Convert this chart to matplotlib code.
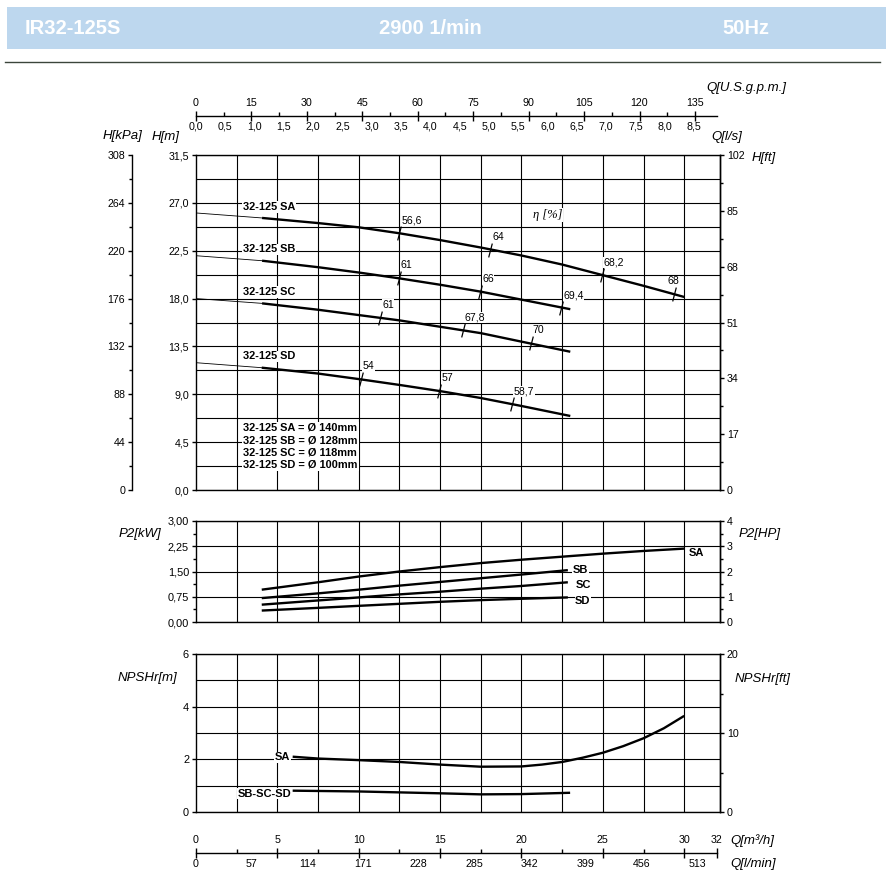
import matplotlib

matplotlib.use("Agg")

import matplotlib.pyplot as plt
import numpy as np
from matplotlib.lines import Line2D
from matplotlib.patches import Rectangle
from matplotlib.path import Path
from matplotlib.ticker import FixedLocator, FuncFormatter


W, H = 887, 881
Q_MAX = 32.2
REGULAR = ["Liberation Sans", "DejaVu Sans"]
NARROW = ["Liberation Sans Narrow", "Liberation Sans", "DejaVu Sans"]

# ---- data (Q in m3/h) ----
# head curves, H [m]; the first segment of each is the thin extension
Q_HEAD_SA = [0, 4.06, 7.5, 10, 12.5, 15, 17.5, 20, 22.5, 25, 27.5, 30]
H_HEAD_SA = [26.05, 25.58, 25.1, 24.7, 24.14, 23.5, 22.8, 22.05, 21.2, 20.2, 19.2, 18.15]
Q_HEAD_SB = [0, 4.06, 7.5, 10, 12.5, 15, 17.5, 20, 23.0]
H_HEAD_SB = [22.03, 21.56, 20.95, 20.45, 19.9, 19.3, 18.65, 17.9, 17.0]
Q_HEAD_SC = [0, 4.06, 7.5, 10, 12.5, 15, 17.5, 20, 23.0]
H_HEAD_SC = [18.0, 17.55, 16.95, 16.45, 15.95, 15.35, 14.75, 13.95, 13.0]
Q_HEAD_SD = [0, 4.04, 7.5, 10, 12.5, 15, 17.5, 20, 23.0]
H_HEAD_SD = [11.97, 11.5, 10.95, 10.43, 9.88, 9.3, 8.65, 7.9, 6.96]

# efficiency marks on the head curves
EFF_Q_SA = [12.48, 18.07, 24.93, 29.38]
EFF_H_SA = [24.14, 22.57, 20.2, 18.4]
EFF_LBL_SA = ["56,6", "64", "68,2", "68"]
EFF_Q_SB = [12.45, 17.45, 22.43]
EFF_H_SB = [19.9, 18.65, 17.08]
EFF_LBL_SB = ["61", "66", "69,4"]
EFF_Q_SC = [11.31, 16.39, 20.57]
EFF_H_SC = [16.2, 15.04, 13.79]
EFF_LBL_SC = ["61", "67,8", "70"]
EFF_Q_SD = [10.12, 14.95, 19.4]
EFF_H_SD = [10.41, 9.31, 8.09]
EFF_LBL_SD = ["54", "57", "58,7"]

CURVE_NAMES = ["32-125 SA", "32-125 SB", "32-125 SC", "32-125 SD"]
DIAMETERS = ["32-125 SA = Ø 140mm", "32-125 SB = Ø 128mm",
             "32-125 SC = Ø 118mm", "32-125 SD = Ø 100mm"]

# shaft power P2 [kW]
Q_P2_SA = [4.04, 7.5, 10, 12.5, 15, 17.5, 20, 22.5, 25, 27.5, 30]
P2_SA = [0.96, 1.18, 1.35, 1.50, 1.63, 1.75, 1.85, 1.94, 2.03, 2.11, 2.18]
Q_P2_SB = [4.04, 7.5, 10, 12.5, 15, 17.5, 20, 22.85]
P2_SB = [0.71, 0.85, 0.96, 1.08, 1.19, 1.30, 1.41, 1.54]
Q_P2_SC = [4.04, 7.5, 10, 12.5, 15, 17.5, 20, 22.85]
P2_SC = [0.515, 0.64, 0.73, 0.82, 0.90, 0.99, 1.07, 1.18]
Q_P2_SD = [4.04, 7.5, 10, 12.5, 15, 17.5, 20, 22.85]
P2_SD = [0.34, 0.42, 0.48, 0.54, 0.60, 0.65, 0.69, 0.73]

# NPSHr [m]
Q_NPSH_SA = [5.94, 7.5, 10, 12.5, 15, 17.5, 20, 21.25, 22.5, 23.75, 25, 26.25, 27.5, 28.75, 30]
NPSH_SA = [2.10, 2.03, 1.97, 1.90, 1.80, 1.72, 1.73, 1.80, 1.90, 2.06, 2.25, 2.50, 2.80, 3.18, 3.65]
Q_NPSH_SBD = [5.94, 10, 15, 17.5, 20, 22.99]
NPSH_SBD = [0.81, 0.78, 0.71, 0.67, 0.68, 0.73]

# secondary flow scales
GPM_TICKS = [0, 15, 30, 45, 60, 75, 90, 105, 120, 135]
LS_TICKS = [0.0, 0.5, 1.0, 1.5, 2.0, 2.5, 3.0, 3.5, 4.0, 4.5, 5.0, 5.5, 6.0, 6.5, 7.0, 7.5, 8.0, 8.5]
M3H_TICKS = [0, 5, 10, 15, 20, 25, 30, 32]
LMIN_TICKS = [0, 57, 114, 171, 228, 285, 342, 399, 456, 513]
GPM_TO_M3H = 0.22712
LS_TO_M3H = 3.6
LMIN_TO_M3H = 0.06


def comma(fmt):
    return FuncFormatter(lambda v, _p: format(v, fmt).replace(".", ","))


def px_axes(fig, left, top, right, bottom):
    h = max(bottom - top, 0.01)
    return fig.add_axes([left / W, 1 - bottom / H, (right - left) / W, h / H])


def fig_text(fig, x, y, s, **kw):
    kw.setdefault("va", "center")
    return fig.text(x / W, 1 - y / H, s, **kw)


def style_panel(ax, ymax, font):
    ax.set_xlim(0, Q_MAX)
    ax.set_ylim(0, ymax)
    ax.set_xticks(np.arange(2.5, 30.1, 2.5))
    ax.tick_params(axis="x", which="both", length=0, labelbottom=False)
    ax.tick_params(axis="y", which="major", direction="out", length=3, width=1, pad=2, labelsize=7.7)
    for lbl in ax.get_yticklabels():
        lbl.set_family(font)
    for sp in ax.spines.values():
        sp.set_linewidth(1.0)
    ax.grid(True, axis="x", color="black", lw=0.8)


def right_axis(ax, ymax, major, minor, fmt, font):
    tw = ax.twinx()
    tw.set_ylim(0, ymax)
    tw.set_yticks(major)
    tw.yaxis.set_minor_locator(FixedLocator(minor))
    tw.yaxis.set_major_formatter(fmt)
    tw.tick_params(axis="y", which="major", direction="out", length=3, width=1, pad=2, labelsize=7.7)
    tw.tick_params(axis="y", which="minor", direction="out", length=2, width=1)
    for lbl in tw.get_yticklabels():
        lbl.set_family(font)
    for name, sp in tw.spines.items():
        sp.set_visible(name == "right")
        sp.set_linewidth(1.0)
    return tw


def scale_axis(fig, y, top_pos, top_lbl, top_minor, bot_pos, bot_lbl, font):
    ax = px_axes(fig, 196, y, 720, y)
    ax.set_xlim(0, Q_MAX)
    ax.set_ylim(0, 1)
    ax.patch.set_visible(False)
    for name, sp in ax.spines.items():
        sp.set_visible(name == "bottom")
    ax.spines["bottom"].set_bounds(0, 32)
    ax.spines["bottom"].set_linewidth(1.0)
    ax.set_yticks([])
    ax.set_xticks(bot_pos)
    ax.set_xticklabels(bot_lbl, family=font)
    ax.tick_params(axis="x", length=0, pad=4, labelsize=7.7)
    axt = ax.twiny()
    axt.set_xlim(0, Q_MAX)
    for sp in axt.spines.values():
        sp.set_visible(False)
    axt.set_xticks(top_pos)
    axt.set_xticklabels(top_lbl, family=font)
    axt.xaxis.set_minor_locator(FixedLocator(top_minor))
    axt.tick_params(axis="x", which="major", direction="inout", length=7, width=1, pad=2, labelsize=7.7)
    axt.tick_params(axis="x", which="minor", direction="out", length=3, width=1)
    return ax


plt.rcParams["font.family"] = REGULAR
fig = plt.figure(figsize=(W / 100, H / 100), dpi=100)
fig.patch.set_facecolor("white")

# header band
fig.add_artist(Rectangle((7 / W, 1 - 49 / H), (W - 7) / W, 42 / H, transform=fig.transFigure,
                         facecolor="#bdd7ee", edgecolor="none"))
fig.add_artist(Line2D([5 / W, 880 / W], [1 - 62 / H] * 2, color="#3b453b", lw=1.0))
for txt, x, ha in [("IR32-125S", 25, "left"), ("2900 1/min", 430, "center"), ("50Hz", 722, "left")]:
    fig_text(fig, x, 29, txt, ha=ha, color="white", fontsize=14.5, fontweight="bold", family=NARROW)

# ---- head panel ----
ax_h = px_axes(fig, 196, 155, 720, 490)
style_panel(ax_h, 31.5, REGULAR)
ax_h.set_yticks(np.arange(0, 31.6, 4.5))
ax_h.yaxis.set_minor_locator(FixedLocator(np.arange(0, 31.6, 2.25)))
ax_h.yaxis.set_major_formatter(comma(".1f"))
ax_h.tick_params(axis="y", which="minor", length=0)
ax_h.grid(True, axis="y", which="both", color="black", lw=0.8)

ax_kpa = ax_h.twinx()
ax_kpa.set_ylim(0, 308)
ax_kpa.yaxis.tick_left()
ax_kpa.set_yticks(np.arange(0, 309, 44))
ax_kpa.yaxis.set_minor_locator(FixedLocator(np.arange(0, 309, 22)))
ax_kpa.tick_params(axis="y", which="major", direction="out", length=3, width=1, pad=2, labelsize=7.7)
ax_kpa.tick_params(axis="y", which="minor", direction="out", length=2, width=1)
for name, sp in ax_kpa.spines.items():
    sp.set_visible(name == "left")
ax_kpa.spines["left"].set_position(("outward", 46))
ax_kpa.spines["left"].set_linewidth(1.0)

right_axis(ax_h, 102, np.arange(0, 103, 17), np.arange(0, 103, 8.5), comma(".0f"), REGULAR)

tick_mark = Path([(-0.26, -1.0), (0.26, 1.0)], [Path.MOVETO, Path.LINETO])
head = [(Q_HEAD_SA, H_HEAD_SA, EFF_Q_SA, EFF_H_SA, EFF_LBL_SA),
        (Q_HEAD_SB, H_HEAD_SB, EFF_Q_SB, EFF_H_SB, EFF_LBL_SB),
        (Q_HEAD_SC, H_HEAD_SC, EFF_Q_SC, EFF_H_SC, EFF_LBL_SC),
        (Q_HEAD_SD, H_HEAD_SD, EFF_Q_SD, EFF_H_SD, EFF_LBL_SD)]
for (q, h, eq, eh, el), name in zip(head, CURVE_NAMES):
    ax_h.plot(q[:2], h[:2], color="black", lw=0.6)
    ax_h.plot(q[1:], h[1:], color="black", lw=1.7, solid_capstyle="butt")
    ax_h.plot(eq, eh, ls="none", marker=tick_mark, ms=10, mew=0.9, color="black", zorder=3)
    for x, y, lbl in zip(eq, eh, el):
        dx = -4.5 if lbl == "68" and len(eq) == 4 else 1.5
        ax_h.annotate(lbl, (x, y), xytext=(dx, 9.3), textcoords="offset points", fontsize=7.6,
                      ha="left", va="center", zorder=2.5,
                      bbox=dict(facecolor="white", edgecolor="none", pad=0.4))
    # curve name just above the start of the curve
    ax_h.annotate(name, (q[0], h[0]), xytext=(34, 4.5), textcoords="offset points", fontsize=7.9,
                  fontweight="bold", ha="left", va="center",
                  bbox=dict(facecolor="white", edgecolor="none", pad=0.6))

ax_h.text(2.9, 4.12, "\n".join(DIAMETERS), fontsize=7.9, fontweight="bold", ha="left", va="center",
          linespacing=1.28, bbox=dict(facecolor="white", edgecolor="none", pad=0.8))
ax_h.text(21.6, 25.86, "η [%]", fontsize=9, style="italic", family=["Liberation Serif", "DejaVu Serif"],
          ha="center", va="center", bbox=dict(facecolor="white", edgecolor="none", pad=0.8))

# ---- P2 panel ----
ax_p = px_axes(fig, 196, 521, 720, 622)
style_panel(ax_p, 3.0, NARROW)
ax_p.set_yticks(np.arange(0, 3.01, 0.75))
ax_p.yaxis.set_minor_locator(FixedLocator(np.arange(0, 3.01, 0.375)))
ax_p.yaxis.set_major_formatter(comma(".2f"))
ax_p.tick_params(axis="y", which="minor", direction="out", length=2, width=1)
ax_p.tick_params(axis="y", which="major", labelsize=7.9)
for lbl in ax_p.get_yticklabels():
    lbl.set_family(NARROW)
ax_p.grid(True, axis="y", which="major", color="black", lw=0.8)
right_axis(ax_p, 4, [0, 1, 2, 3, 4], np.arange(0, 4.1, 0.5), comma(".0f"), NARROW)

p2 = [(Q_P2_SA, P2_SA, "SA", 30.25, 2.04), (Q_P2_SB, P2_SB, "SB", 23.15, 1.54),
      (Q_P2_SC, P2_SC, "SC", 23.36, 1.10), (Q_P2_SD, P2_SD, "SD", 23.3, 0.63)]
for q, p, lbl, lx, ly in p2:
    ax_p.plot(q, p, color="black", lw=1.7, solid_capstyle="butt")
    ax_p.text(lx, ly, lbl, fontsize=8, fontweight="bold", family=NARROW, ha="left", va="center",
              bbox=dict(facecolor="white", edgecolor="none", pad=0.4))

# ---- NPSH panel ----
ax_n = px_axes(fig, 196, 654, 720, 812)
style_panel(ax_n, 6, NARROW)
ax_n.set_yticks([0, 2, 4, 6])
ax_n.yaxis.set_minor_locator(FixedLocator([1, 3, 5]))
ax_n.yaxis.set_major_formatter(comma(".0f"))
ax_n.tick_params(axis="y", which="minor", length=0)
ax_n.tick_params(axis="y", which="major", labelsize=7.9)
for lbl in ax_n.get_yticklabels():
    lbl.set_family(NARROW)
ax_n.grid(True, axis="y", which="both", color="black", lw=0.8)
right_axis(ax_n, 20, [0, 10, 20], [5, 15], comma(".0f"), NARROW)

ax_n.plot(Q_NPSH_SA, NPSH_SA, color="black", lw=1.7, solid_capstyle="butt")
ax_n.plot(Q_NPSH_SBD, NPSH_SBD, color="black", lw=1.7, solid_capstyle="butt")
ax_n.text(5.78, 2.07, "SA", fontsize=8, fontweight="bold", family=NARROW, ha="right", va="center",
          bbox=dict(facecolor="white", edgecolor="none", pad=0.4))
ax_n.text(5.88, 0.70, "SB-SC-SD", fontsize=8, fontweight="bold", family=NARROW, ha="right", va="center",
          bbox=dict(facecolor="white", edgecolor="none", pad=0.4))

# ---- flow scales ----
scale_axis(fig, 116,
           [g * GPM_TO_M3H for g in GPM_TICKS], [str(g) for g in GPM_TICKS],
           [g * GPM_TO_M3H for g in np.arange(7.5, 136, 15)],
           [v * LS_TO_M3H for v in LS_TICKS], [format(v, ".1f").replace(".", ",") for v in LS_TICKS],
           REGULAR)
scale_axis(fig, 853,
           M3H_TICKS, [str(v) for v in M3H_TICKS], np.arange(2.5, 30, 5),
           [v * LMIN_TO_M3H for v in LMIN_TICKS], [str(v) for v in LMIN_TICKS],
           NARROW)

# axis titles
it = dict(style="italic", fontsize=9.5)
fig_text(fig, 122, 136, "H[kPa]", ha="center", **it)
fig_text(fig, 166, 137, "H[m]", ha="center", **it)
fig_text(fig, 706, 88, "Q[U.S.g.p.m.]", ha="left", **it)
fig_text(fig, 711, 137, "Q[l/s]", ha="left", **it)
fig_text(fig, 752, 158, "H[ft]", ha="left", **it)
fig_text(fig, 140, 534, "P2[kW]", ha="center", family=NARROW, **it)
fig_text(fig, 760, 534, "P2[HP]", ha="center", family=NARROW, **it)
fig_text(fig, 147, 678, "NPSHr[m]", ha="center", family=NARROW, **it)
fig_text(fig, 763, 679, "NPSHr[ft]", ha="center", family=NARROW, **it)
fig_text(fig, 730, 841, "Q[m³/h]", ha="left", family=NARROW, **it)
fig_text(fig, 730, 864, "Q[l/min]", ha="left", family=NARROW, **it)

fig.savefig("out.png", dpi=100, facecolor="white")
